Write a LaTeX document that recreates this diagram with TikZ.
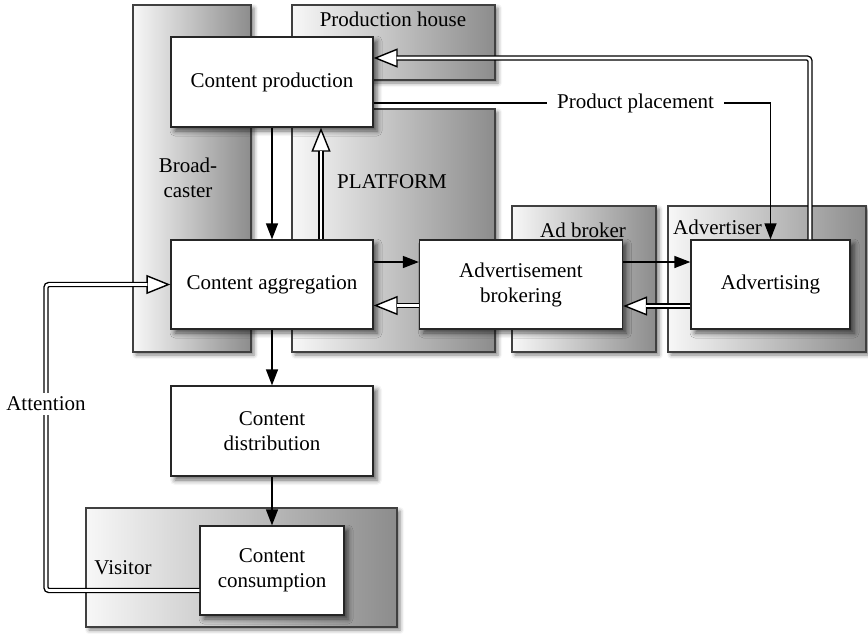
\documentclass[tikz,border=0pt]{standalone}
\usepackage{fontspec}
\setmainfont{Liberation Serif}
\usetikzlibrary{arrows.meta,shadows.blur}

\tikzset{
  box/.style={draw=black!85, line width=1.3pt, fill=white, align=center, inner sep=0pt,
    blur shadow={shadow xshift=4pt, shadow yshift=-4pt, shadow blur radius=5pt, shadow opacity=60}},
  group/.style={draw=black!75, line width=1.3pt, left color=black!3, right color=black!45,
    blur shadow={shadow xshift=3pt, shadow yshift=-3pt, shadow blur radius=4pt, shadow opacity=50}},
  lbl/.style={inner sep=1pt, align=center},
  flow/.style={draw=black, line width=1.4pt, -{Triangle[length=16pt,width=12pt]}},
  % open head first, the double line goes on top of it
  dtip/.style={draw=black, line width=1.4pt, rounded corners=3pt,
    -{Triangle[open,length=24pt,width=19pt,fill=white]}},
  dbl/.style={draw=black, double, double distance=2.6pt, line width=1.4pt, rounded corners=3pt,
    shorten >=23pt},
}

\begin{document}
\begin{tikzpicture}[x=1pt, y=-1pt, every node/.style={font=\fontsize{21}{25}\selectfont}]
\useasboundingbox (0,0) rectangle (868,633);

% the parties
\draw[group] (133,5) rectangle (251,352);
\draw[group] (292,5) rectangle (495,80);
\draw[group] (292,109) rectangle (495,352);
\draw[group] (512,206) rectangle (656,352);
\draw[group] (668,206) rectangle (866,352);
\draw[group] (86,508) rectangle (397,627);

\node[lbl] (house) at (393,19) {Production house};
\node[lbl] (bcast) at (188,178) {Broad-\\caster};
\node[lbl] (platf) at (392,182) {PLATFORM};
\node[lbl] (broker) at (583,230) {Ad broker};
\node[lbl, anchor=west] (adv) at (672,227) {Advertiser};
\node[lbl] (visit) at (123,568) {Visitor};

% the activities
\node[box, minimum width=202pt, minimum height=90pt] (prod) at (272,82) {Content production};
\node[box, minimum width=202pt, minimum height=89pt] (aggr) at (272,284.5) {Content aggregation};
\node[box, minimum width=203pt, minimum height=89pt] (brok) at (521,284.5) {Advertisement\\brokering};
\node[box, minimum width=159pt, minimum height=89pt] (advg) at (770.5,284.5) {Advertising};
\node[box, minimum width=202pt, minimum height=90pt] (distr) at (272,431) {Content\\distribution};
\node[box, minimum width=144pt, minimum height=89pt] (cons) at (272,570.5) {Content\\consumption};

% content flow
\draw[flow] (prod.south) -- (aggr.north);
\draw[flow] (aggr.south) -- (distr.north);
\draw[flow] (distr.south) -- (cons.north);
\draw[flow] ([yshift=22.5pt]aggr.east) -- ([yshift=22.5pt]brok.west);
\draw[flow] ([yshift=22.5pt]brok.east) -- ([yshift=22.5pt]advg.west);
\draw[flow] ([yshift=-21pt]prod.east) -| node[pos=0.33, fill=white, inner xsep=10pt] (place) {Product placement} (advg.north);

% money and attention
\draw[dtip] ([xshift=49pt]aggr.north) -- ([xshift=49pt]prod.south);
\draw[dbl] ([xshift=49pt]aggr.north) -- ([xshift=49pt]prod.south);
\draw[dtip] ([yshift=-21pt]brok.west) -- ([yshift=-21pt]aggr.east);
\draw[dbl] ([yshift=-21pt]brok.west) -- ([yshift=-21pt]aggr.east);
\draw[dtip] ([yshift=-21.5pt]advg.west) -- ([yshift=-21.5pt]brok.east);
\draw[dbl] ([yshift=-21.5pt]advg.west) -- ([yshift=-21.5pt]brok.east);
\draw[dtip] ([xshift=39.5pt]advg.north) |- ([yshift=24pt]prod.east);
\draw[dbl] ([xshift=39.5pt]advg.north) |- ([yshift=24pt]prod.east);
\coordinate (att) at (46,284.5);
\draw[dtip] ([yshift=-20pt]cons.west) -| (att) -- (aggr.west);
\draw[dbl] ([yshift=-20pt]cons.west) -| (att) -- (aggr.west);
\node[lbl, fill=white, inner ysep=4pt] (attn) at (46,404) {Attention};
\end{tikzpicture}
\end{document}
